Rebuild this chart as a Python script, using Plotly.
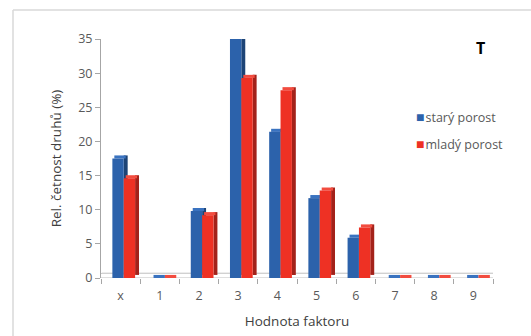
import plotly.graph_objects as go

# Relative species frequency per factor value, old vs. young stand
categories = ["x", "1", "2", "3", "4", "5", "6", "7", "8", "9"]
stary = [17.5, 0, 9.8, 35.0, 21.4, 11.7, 5.9, 0, 0, 0]
mlady = [14.6, 0, 9.2, 29.3, 27.5, 12.8, 7.4, 0, 0, 0]
y_ticks = [0, 5, 10, 15, 20, 25, 30, 35]

W, H = 531, 336
ML, MR, MT, MB = 101, 38, 39, 58

FONT = "Open Sans"
GRAY = "#595959"

# pseudo-3D bar geometry (category units / value units)
BW = 0.29      # front face width
DX = 0.10      # depth shift to the right
DY = 0.45      # depth shift upwards

series = [
    ("starý porost", stary, -0.21, "#2C62AB", "#1D4476", "#3A73C0"),
    ("mladý porost", mlady, 0.08, "#EE3124", "#A3221A", "#F24C3F"),
]

fig = go.Figure()
for name, vals, off, front, side, top in series:
    # side face
    fig.add_trace(go.Bar(
        x=categories, y=vals, base=[DY] * len(vals), width=DX, offset=off + BW,
        marker=dict(color=side, line=dict(width=0)), showlegend=False,
        hoverinfo="skip", cliponaxis=False,
    ))
    # top face
    fig.add_trace(go.Bar(
        x=categories, y=[DY] * len(vals), base=vals, width=BW, offset=off + DX / 2,
        marker=dict(color=top, line=dict(width=0)), showlegend=False,
        hoverinfo="skip", cliponaxis=False,
    ))
    # front face
    fig.add_trace(go.Bar(
        x=categories, y=vals, width=BW, offset=off, name=name,
        marker=dict(color=front, line=dict(width=0)), showlegend=False,
        cliponaxis=False,
    ))

# floor of the 3D plot area
fig.add_shape(type="path", xref="x", yref="y",
              path="M -0.6 0 L 9.5 0 L 9.78 0.7 L -0.48 0.7 Z",
              line=dict(color="#BFBFBF", width=1), fillcolor="rgba(0,0,0,0)",
              layer="below")

# pixel -> paper helpers
px_x = lambda p: (p - ML) / (W - ML - MR)
px_y = lambda p: (H - MB - p) / (H - MT - MB)

# outer chart frame (left and top edges)
fig.add_shape(type="line", xref="paper", yref="paper",
              x0=px_x(13), x1=px_x(13), y0=px_y(10), y1=px_y(H + 5),
              line=dict(color="#D9D9D9", width=1.5))
fig.add_shape(type="line", xref="paper", yref="paper",
              x0=px_x(13), x1=px_x(W + 5), y0=px_y(10), y1=px_y(10),
              line=dict(color="#D9D9D9", width=1.5))

fig.add_annotation(text="<b>T</b>", xref="paper", yref="paper",
                   x=px_x(480), y=px_y(48), xanchor="center", yanchor="middle",
                   showarrow=False,
                   font=dict(family=FONT, size=16, color="#000000"))

# legend entries: colour square + label
for (name, _, _, front, _, _), ly in zip(series, [116, 143]):
    fig.add_annotation(
        text=(f"<span style='color:{front}; font-size:14px'>■</span>"
              f"<span style='font-size:4px'> </span>{name}"),
        xref="paper", yref="paper", x=px_x(414), y=px_y(ly),
        xanchor="left", yanchor="middle", showarrow=False,
        font=dict(family=FONT, size=12.5, color=GRAY))

fig.update_layout(
    width=W, height=H,
    margin=dict(l=ML, r=MR, t=MT, b=MB),
    paper_bgcolor="white", plot_bgcolor="white",
    barmode="overlay",
    showlegend=False,
    font=dict(family=FONT, size=12, color=GRAY),
    xaxis=dict(type="category", range=[-0.5, 9.5], showline=False,
               ticks="outside", tickson="boundaries", ticklen=5,
               tickcolor="#A6A6A6", showgrid=False, zeroline=False,
               ticklabelstandoff=8, automargin=False,
               tickfont=dict(size=12.5, color=GRAY),
               title=dict(text="Hodnota faktoru", standoff=14,
                          font=dict(size=13.5, color="#404040"))),
    yaxis=dict(range=[0, 35], tickvals=y_ticks, showline=True,
               linecolor="#A6A6A6", ticks="outside", ticklen=5,
               tickcolor="#A6A6A6", showgrid=False, zeroline=False,
               automargin=False,
               tickfont=dict(size=12.5, color=GRAY),
               title=dict(text="Rel. četnost druhů (%)", standoff=13,
                          font=dict(size=13.5, color="#404040"))),
)

fig.write_html("out.html")
